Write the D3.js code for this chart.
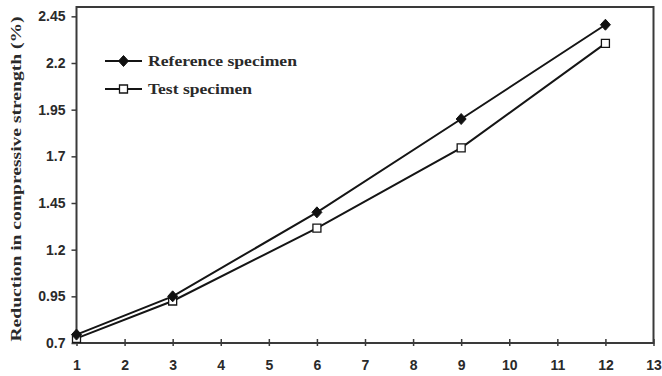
<!DOCTYPE html>
<html>
<head>
<meta charset="utf-8">
<script src="https://cdn.jsdelivr.net/npm/d3@7"></script>
<style>
  html, body { margin: 0; padding: 0; background: #fff; }
  svg { display: block; }
</style>
</head>
<body>
<svg id="chart" width="662" height="376"></svg>
<script>
// Exposure period (x) and reduction in compressive strength (%) per specimen type
const periods = [1, 3, 6, 9, 12];
const referenceValues = [0.745, 0.95, 1.40, 1.90, 2.405];
const testValues = [0.725, 0.925, 1.315, 1.745, 2.305];
const xTicks = [1, 2, 3, 4, 5, 6, 7, 8, 9, 10, 11, 12, 13];
const yTicks = [0.7, 0.95, 1.2, 1.45, 1.7, 1.95, 2.2, 2.45];
const seriesNames = ["Reference specimen", "Test specimen"];

const svg = d3.select("#chart");
const m = { left: 76.5, right: 653.5, top: 7, bottom: 343 };

const x = d3.scaleLinear().domain([1, 13]).range([m.left, m.right]);
const y = d3.scaleLinear().domain([0.7, 2.5]).range([m.bottom, m.top]);

const axisColor = "#3a3a3a";
const textColor = "#2a2a2a";

// Plot frame
svg.append("rect")
  .attr("x", m.left).attr("y", m.top)
  .attr("width", m.right - m.left).attr("height", m.bottom - m.top)
  .attr("fill", "none").attr("stroke", axisColor).attr("stroke-width", 2);

// Y axis (ticks outside)
const yAxis = svg.append("g")
  .attr("transform", `translate(${m.left},0)`)
  .call(d3.axisLeft(y).tickValues(yTicks).tickSize(5).tickPadding(6)
    .tickFormat(d => String(+d.toFixed(2))));
yAxis.select(".domain").remove();
yAxis.selectAll(".tick line").attr("stroke", axisColor).attr("stroke-width", 1.5);
yAxis.selectAll(".tick text")
  .attr("fill", textColor)
  .style("font-family", "'Liberation Sans', Arial, sans-serif")
  .style("font-weight", "bold")
  .style("font-size", "14px");

// X axis (ticks crossing the line)
const xAxis = svg.append("g")
  .attr("transform", `translate(0,${m.bottom})`)
  .call(d3.axisBottom(x).tickValues(xTicks).tickSize(0).tickPadding(17)
    .tickFormat(d3.format("d")));
xAxis.select(".domain").remove();
xAxis.selectAll(".tick").append("line")
  .attr("y1", -4).attr("y2", 3)
  .attr("stroke", axisColor).attr("stroke-width", 1.5);
xAxis.selectAll(".tick text")
  .attr("fill", textColor)
  .style("font-family", "'Liberation Sans', Arial, sans-serif")
  .style("font-weight", "bold")
  .style("font-size", "14px");

// Y axis title
svg.append("text")
  .attr("transform", `translate(21,${(m.top + m.bottom) / 2 + 4}) rotate(-90)`)
  .attr("text-anchor", "middle")
  .attr("textLength", 325)
  .attr("lengthAdjust", "spacingAndGlyphs")
  .attr("fill", textColor)
  .style("font-family", "'Liberation Serif', 'Times New Roman', serif")
  .style("font-weight", "bold")
  .style("font-size", "15px")
  .text("Reduction in compressive strength (%)");

const line = d3.line().x(d => x(d[0])).y(d => y(d[1]));
const lineColor = "#151515";

function drawSeries(values, marker) {
  const pts = periods.map((p, i) => [p, values[i]]);
  svg.append("path")
    .datum(pts)
    .attr("d", line)
    .attr("fill", "none")
    .attr("stroke", lineColor)
    .attr("stroke-width", 2);
  svg.selectAll(null).data(pts).enter().append("path")
    .attr("transform", d => `translate(${x(d[0])},${y(d[1])})`)
    .attr("d", marker.path)
    .attr("fill", marker.fill)
    .attr("stroke", lineColor)
    .attr("stroke-width", marker.sw);
}

const diamond = { path: "M0,-5.5L5,0L0,5.5L-5,0Z", fill: "#111", sw: 1 };
const square = { path: "M-4,-4H4V4H-4Z", fill: "#fff", sw: 1.3 };

drawSeries(testValues, square);
drawSeries(referenceValues, diamond);

// Legend
const legend = [
  { name: seriesNames[0], marker: diamond, y: 61, len: 149 },
  { name: seriesNames[1], marker: square, y: 89, len: 104 }
];
legend.forEach(l => {
  svg.append("line")
    .attr("x1", 105).attr("x2", 142).attr("y1", l.y).attr("y2", l.y)
    .attr("stroke", lineColor).attr("stroke-width", 2);
  svg.append("path")
    .attr("transform", `translate(123.5,${l.y})`)
    .attr("d", l.marker.path)
    .attr("fill", l.marker.fill)
    .attr("stroke", lineColor)
    .attr("stroke-width", l.marker.sw);
  svg.append("text")
    .attr("x", 148).attr("y", l.y + 5)
    .attr("textLength", l.len)
    .attr("lengthAdjust", "spacingAndGlyphs")
    .attr("fill", textColor)
    .style("font-family", "'Liberation Serif', 'Times New Roman', serif")
    .style("font-weight", "bold")
    .style("font-size", "15px")
    .text(l.name);
});
</script>
</body>
</html>
